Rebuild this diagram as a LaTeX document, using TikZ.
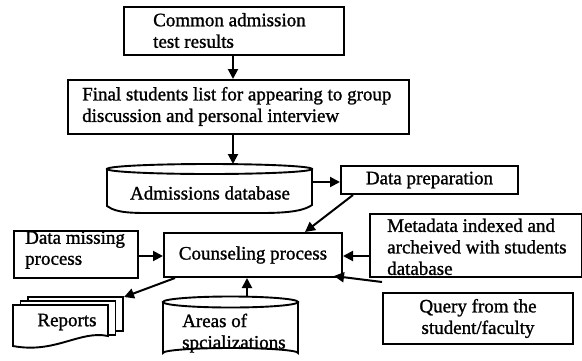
\documentclass[tikz,border=0pt]{standalone}
\usepackage{fontspec}
\setmainfont{Liberation Serif}[UprightFeatures={FakeBold=1.2}]
\usetikzlibrary{arrows.meta}
\begin{document}
\begin{tikzpicture}[x=1pt,y=-1pt,
  font=\fontsize{19}{21.5}\selectfont,
  box/.style={draw,line width=2pt,fill=white,inner sep=0pt},
  txt/.style={inner sep=0pt,align=left},
  shp/.style={draw,line width=1.9pt,fill=white},
  arr/.style={line width=2pt,-{Triangle[length=10pt,width=10pt]}}]
\useasboundingbox (0,0) rectangle (582,360);

% top boxes
\node[box,minimum width=220,minimum height=48,anchor=north west] (cat) at (123,6) {};
\node[txt,anchor=west] (catt) at (153,30.5) {Common admission\\test results};
\node[box,minimum width=341,minimum height=54,anchor=north west] (fsl) at (67,79) {};
\node[txt,anchor=west] (fslt) at (82,106.5) {Final students list for appearing to group\\discussion and personal interview};

% admissions database
\path[shp] (107,169) -- (107,206) .. controls (118,214) and (135,213) .. (170,213) -- (262,213) .. controls (292,213) and (305,210) .. (312,205) -- (312,169) -- cycle;
\draw[shp] (209.5,169) ellipse [x radius=102.5,y radius=5];
\node[inner sep=0pt] (adb) at (210,193) {Admissions database};
\coordinate (adbN) at (233,164);
\coordinate (adbE) at (312,182);

% data preparation
\node[box,minimum width=177,minimum height=28,anchor=north west] (dp) at (340,165) {Data preparation};

% counseling
\node[box,minimum width=178,minimum height=44,anchor=north west] (cp) at (163,232) {Counseling process};

% metadata
\node[box,minimum width=212,minimum height=63,anchor=north west] (md) at (369,213) {};
\node[txt,anchor=north west] (mdt) at (387,218.5) {Metadata indexed and\\archeived with students\\database};

% data missing
\node[box,minimum width=124,minimum height=47,anchor=north west] (dm) at (13,230) {};
\node[txt,anchor=west,font=\fontsize{19}{21}\selectfont] (dmt) at (25,250) {Data missing\\process};

% reports (multi-document)
\path[shp] (28,297) -- (123,297) -- (123,331) -- (28,331) -- cycle;
\path[shp] (20.5,301) -- (115.5,301) -- (115.5,335) -- (20.5,335) -- cycle;
\path[shp] (13,305) -- (108,305) -- (108,336) .. controls (80,330) and (55,354) .. (13,346) -- cycle;
\node[inner sep=0pt] (rep) at (67,322) {Reports};
\coordinate (repNE) at (124,297);

% areas of specializations
\path[shp] (163,302) -- (163,353) arc[start angle=180,end angle=360,x radius=67.5,y radius=5] -- (298,302) -- cycle;
\draw[shp] (230.5,302) ellipse [x radius=67.5,y radius=5.5];
\node[txt,anchor=north west] (aos) at (182,313.5) {Areas of\\spcializations};
\coordinate (aosT) at (247,297);

% query
\node[box,minimum width=190,minimum height=51,anchor=north west,align=center] (q) at (382,292) {Query from the\\student/faculty};

% connectors
\draw[arr] (cat.south -| adbN) -- (adbN |- fsl.north);
\draw[arr] (adbN |- fsl.south) -- (adbN);
\draw[arr] (adbE) -- (adbE -| dp.west);
\draw[arr] ([xshift=13pt]dp.south west) -- ([xshift=142pt]cp.north west);
\draw[arr] (dm.east |- 0,256) -- (cp.west |- 0,256);
\draw[arr] (md.west |- 0,256) -- (cp.east |- 0,256);
\draw[arr] ([xshift=12pt]cp.south west) -- (repNE);
\draw[arr] (aosT) -- (aosT |- cp.south);
\draw[arr] ([yshift=10pt]q.north west) -- ([xshift=-9pt,yshift=2pt]cp.south east);
\end{tikzpicture}
\end{document}
